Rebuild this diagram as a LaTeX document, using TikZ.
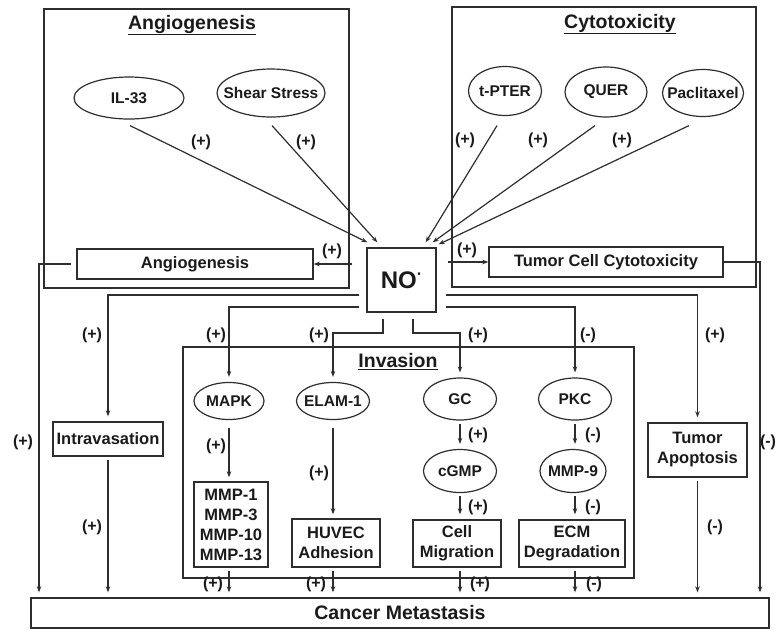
\documentclass[tikz,border=0pt]{standalone}
\usepackage{fontspec}
\setmainfont{Liberation Sans}
\usetikzlibrary{shapes.geometric,arrows.meta,calc}
\newcommand{\zwbox}[1]{\makebox[0pt]{#1}}
\definecolor{lncol}{HTML}{2E2E2E}
\definecolor{txcol}{HTML}{1A1A1A}
\begin{document}
\begin{tikzpicture}[x=1pt,y=-1pt,
  every node/.style={text=txcol, inner sep=0pt},
  box/.style={draw=lncol, line width=1.4pt, rectangle, align=center, font=\fontsize{16.5}{20}\selectfont\bfseries},
  bigbox/.style={draw=lncol, line width=1.6pt, rectangle},
  ell/.style={draw=lncol, line width=1.2pt, ellipse, font=\fontsize{15.5}{18}\selectfont\bfseries},
  ttl/.style={font=\fontsize{19.5}{22}\selectfont\bfseries},
  sgn/.style={font=\fontsize{16}{18}\selectfont\bfseries},
  arr/.style={draw=lncol, line width=1.2pt, -{Stealth[length=6pt,width=4.5pt]}}]
\useasboundingbox (0,0) rectangle (778,633);
\fill[white] (0,0) rectangle (778,633);
\coordinate (jy) at (0,333);
\coordinate (lx) at (39,0);
\coordinate (rx) at (760,0);
% Angiogenesis panel
\node[bigbox, minimum width=305pt, minimum height=279pt] (angbox) at (196.5,148.5) {};
\node[ttl] (angtitle) at (192,25) {\underline{Angiogenesis}};
\node[ell, minimum width=110pt, minimum height=42pt] (il33) at (129,98) {\zwbox{IL-33}};
\node[ell, minimum width=108pt, minimum height=48pt] (shear) at (271,93) {\zwbox{Shear Stress}};
\node[box, minimum width=236pt, minimum height=30pt] (angio) at (195,264) {Angiogenesis};
% NO
\node[draw=lncol, line width=1.4pt, minimum width=69pt, minimum height=64pt, font=\fontsize{24}{28}\selectfont\bfseries] (NO) at (401.5,280) {NO\raisebox{9pt}{\fontsize{16}{16}\selectfont\char"00B7}};
% Cytotoxicity panel
\node[bigbox, minimum width=304pt, minimum height=280pt] (cytbox) at (604,147) {};
\node[ttl] (cyttitle) at (620,24) {\underline{Cytotoxicity}};
\node[ell, minimum width=73pt, minimum height=49pt] (tpter) at (505,91) {\zwbox{t-PTER}};
\node[ell, minimum width=82pt, minimum height=50pt] (quer) at (606,92) {\zwbox{QUER}};
\node[ell, minimum width=81pt, minimum height=47pt] (pacl) at (703,93) {\zwbox{Paclitaxel}};
\node[box, minimum width=234pt, minimum height=30pt] (tcc) at (606,262) {Tumor Cell Cytotoxicity};
% Invasion panel
\node[bigbox, minimum width=451pt, minimum height=231pt] (invbox) at (408.5,462.5) {};
\node[ttl] (invtitle) at (398,362) {\underline{Invasion}};
\node[ell, minimum width=70pt, minimum height=37pt] (mapk) at (229,401) {\zwbox{MAPK}};
\node[ell, minimum width=73pt, minimum height=37pt] (elam) at (333,401) {\zwbox{ELAM-1}};
\node[ell, minimum width=73pt, minimum height=42pt] (gc) at (460,399) {\zwbox{GC}};
\node[ell, minimum width=73pt, minimum height=42pt] (pkc) at (575,399) {\zwbox{PKC}};
\node[ell, minimum width=73pt, minimum height=43pt] (cgmp) at (460,471) {\zwbox{cGMP}};
\node[ell, minimum width=66pt, minimum height=43pt] (mmp9) at (573,471) {\zwbox{MMP-9}};
\node[box, minimum width=74pt, minimum height=85pt] (mmpbox) at (231,524.5) {MMP-1\\MMP-3\\MMP-10\\MMP-13};
\node[box, minimum width=88pt, minimum height=48pt] (huvec) at (336,543) {HUVEC\\Adhesion};
\node[box, minimum width=88pt, minimum height=47pt] (cellmig) at (457,543.5) {Cell\\Migration};
\node[box, minimum width=106pt, minimum height=47pt] (ecm) at (572,543.5) {ECM\\Degradation};
% side boxes
\node[box, minimum width=110pt, minimum height=34pt] (intra) at (108,439) {Intravasation};
\node[box, minimum width=99pt, minimum height=54pt] (apop) at (697.5,450) {Tumor\\Apoptosis};
\node[box, minimum width=738pt, minimum height=30pt, font=\fontsize{19.5}{22}\selectfont\bfseries] (cm) at (400,613) {Cancer Metastasis};
% arrows into NO
\draw[arr] ($(il33.south)+(1,6)$) -- ($(NO.north west)+(1,-5)$);
\draw[arr] ($(shear.south)+(1,8)$) -- ($(NO.north west)+(11,-5)$);
\draw[arr] ($(tpter.south)+(-8,9.5)$) -- ($(NO.north east)+(-11,-5)$);
\draw[arr] ($(quer.south)+(-11,8)$) -- ($(NO.north east)+(-4,-5)$);
\draw[arr] ($(pacl.south)+(-14,8.5)$) -- ($(NO.north east)+(2,-3)$);
% NO to angiogenesis / cytotoxicity
\draw[arr, shorten <=14pt] (NO.west |- angio.east) -- (angio.east);
\draw[arr, shorten <=11pt] (NO.east |- tcc.west) -- (tcc.west);
\draw[arr, shorten <=5pt, shorten >=5pt] (angio.west) -- (angio.west -| lx) -- (lx |- cm.north);
\draw[arr, shorten >=5pt] (tcc.east) -- (tcc.east -| rx) -- (rx |- cm.north);
% NO downward
\draw[arr, shorten <=7pt, shorten >=5pt] ([yshift=-15pt]NO.west) -| (intra.north);
\draw[arr, shorten <=7pt, shorten >=5pt] ([yshift=-27pt]NO.west) -| (mapk.north);
\draw[arr, shorten <=6pt, shorten >=5pt] ([xshift=-18.5pt]NO.south) |- (elam.north |- jy) -- (elam.north);
\draw[arr, shorten <=9pt, shorten >=5pt] ([yshift=-15pt]NO.east) -| (apop.north);
\draw[arr, shorten <=9pt, shorten >=5pt] ([yshift=-27pt]NO.east) -| (pkc.north);
\draw[arr, shorten <=6pt, shorten >=5pt] ([xshift=11.5pt]NO.south) |- (gc.north |- jy) -- (gc.north);
% inside invasion
\draw[arr, shorten <=8pt, shorten >=4pt] (mapk.south) -- (mapk.south |- mmpbox.north);
\draw[arr, shorten <=8pt, shorten >=4pt] (elam.south) -- (elam.south |- huvec.north);
\draw[arr, shorten <=3pt, shorten >=5pt] (gc.south) -- (cgmp.north);
\draw[arr, shorten <=3pt, shorten >=5pt] (cgmp.south) -- (cgmp.south |- cellmig.north);
\draw[arr, shorten <=3pt, shorten >=5pt] (pkc.south) -- (pkc.south |- mmp9.north);
\draw[arr, shorten <=3pt, shorten >=5pt] (pkc.south |- mmp9.south) -- (pkc.south |- ecm.north);
% to cancer metastasis
\draw[arr, shorten <=3pt, shorten >=5pt] (intra.south) -- (intra.south |- cm.north);
\draw[arr, shorten <=3pt, shorten >=5pt] (mapk.south |- mmpbox.south) -- (mapk.south |- cm.north);
\draw[arr, shorten <=3pt, shorten >=5pt] (elam.south |- huvec.south) -- (elam.south |- cm.north);
\draw[arr, shorten <=3pt, shorten >=5pt] (cgmp.south |- cellmig.south) -- (cgmp.south |- cm.north);
\draw[arr, shorten <=3pt, shorten >=5pt] (pkc.south |- ecm.south) -- (pkc.south |- cm.north);
\draw[arr, shorten <=3pt, shorten >=5pt] (apop.south) -- (apop.south |- cm.north);
% sign labels
\node[sgn] (s1) at (201,142) {(+)};
\node[sgn] (s2) at (306,142) {(+)};
\node[sgn] (s3) at (465,140) {(+)};
\node[sgn] (s4) at (538,140) {(+)};
\node[sgn] (s5) at (622,140) {(+)};
\node[sgn] (s6) at (332,251) {(+)};
\node[sgn] (s7) at (467,250) {(+)};
\node[sgn] (s8) at (92,335) {(+)};
\node[sgn] (s9) at (216,335) {(+)};
\node[sgn] (s10) at (319,335) {(+)};
\node[sgn] (s11) at (478,335) {(+)};
\node[sgn] (s12) at (588,335) {(-)};
\node[sgn] (s13) at (715,335) {(+)};
\node[sgn] (s14) at (23,442) {(+)};
\node[sgn] (s15) at (768,442) {(-)};
\node[sgn] (s16) at (216,446) {(+)};
\node[sgn] (s17) at (319,473) {(+)};
\node[sgn] (s18) at (478,435) {(+)};
\node[sgn] (s19) at (478,507) {(+)};
\node[sgn] (s20) at (593,435) {(-)};
\node[sgn] (s21) at (593,507) {(-)};
\node[sgn] (s22) at (92,527) {(+)};
\node[sgn] (s23) at (715,527) {(-)};
\node[sgn] (s24) at (213,584) {(+)};
\node[sgn] (s25) at (316,584) {(+)};
\node[sgn] (s26) at (480,584) {(+)};
\node[sgn] (s27) at (594,584) {(-)};
\end{tikzpicture}
\end{document}
